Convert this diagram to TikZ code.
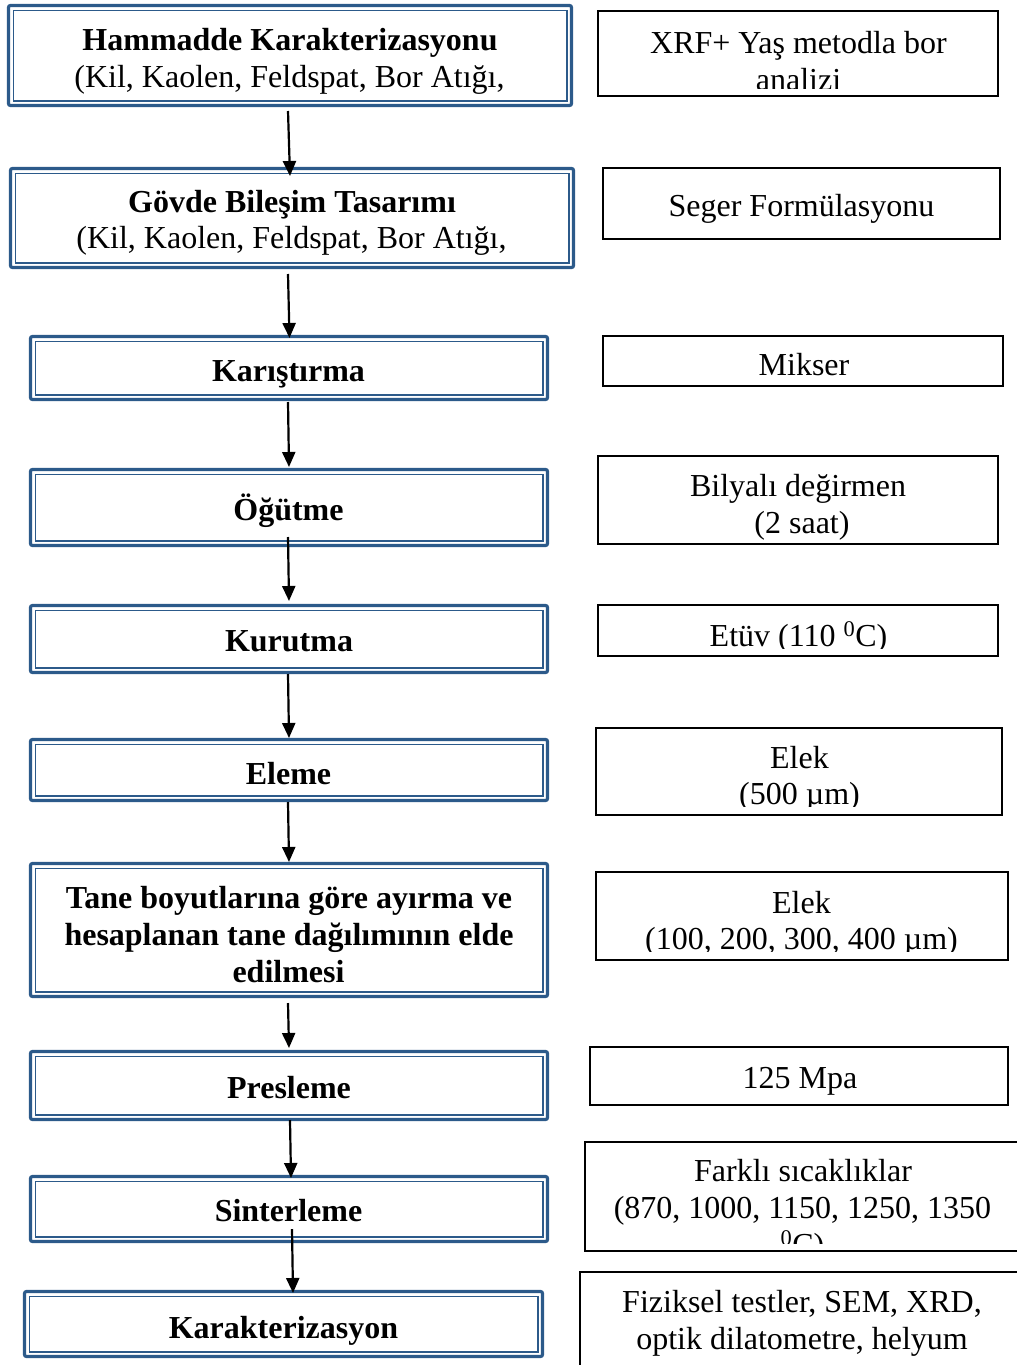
\documentclass[tikz,border=0pt]{standalone}
\usepackage{fontspec}
\setmainfont{Liberation Serif}
\usetikzlibrary{arrows.meta}
\definecolor{frameblue}{HTML}{2C5A8A}

\tikzset{
  stepframe/.style={draw=frameblue, line width=3.2pt, rounded corners=2pt,
    inner sep=0pt, outer sep=0pt},
  stepinner/.style={draw=frameblue, line width=1.6pt},
  toolframe/.style={draw=black, line width=2.4pt, inner sep=0pt, outer sep=0pt},
  txt/.style={anchor=base, inner sep=0pt, font=\fontsize{32}{37}\selectfont},
  btxt/.style={anchor=base, inner sep=0pt, font=\fontsize{32}{37}\selectfont\bfseries},
  flowarrow/.style={-{Triangle[length=15pt,width=13pt]}, line width=2.2pt},
}

% process step: double blue frame (name, centre x, centre y, width, height)
\newcommand\stepframe[5]{%
  \node[stepframe, minimum width=#4pt, minimum height=#5pt] (#1) at (#2,#3) {};
  \draw[stepinner] ([shift={(4.8pt,-4.8pt)}]#1.north west)
    rectangle ([shift={(-4.8pt,4.8pt)}]#1.south east);
}

% method box: thin black frame (name, left, top, right, bottom)
\newcommand\toolbox[5]{%
  \pgfmathsetmacro\tbcx{(#2+#4)/2}%
  \pgfmathsetmacro\tbcy{(#3+#5)/2}%
  \pgfmathsetmacro\tbw{#4-#2}%
  \pgfmathsetmacro\tbh{#5-#3}%
  \node[toolframe, minimum width=\tbw pt, minimum height=\tbh pt] (#1) at (\tbcx,\tbcy) {};
}

\begin{document}
\begin{tikzpicture}[x=1pt,y=-1pt]
\useasboundingbox (0,0) rectangle (1017,1365);

% ---------- process steps ----------
\stepframe{n1}{290}{55.5}{563}{100}
\stepframe{n2}{292}{218}{563}{99}
\stepframe{n3}{289}{368}{517}{63}
\stepframe{n4}{289}{507.5}{517}{76}
\stepframe{n5}{289}{639}{517}{67}
\stepframe{n6}{289}{770}{517}{61}
\stepframe{n7}{289}{930}{517}{133}
\stepframe{n8}{289}{1085.5}{517}{68}
\stepframe{n9}{289}{1209}{517}{65}
\stepframe{n10}{283.5}{1324}{518}{65}

\node[btxt] (t1a) at (290,50) {Hammadde Karakterizasyonu};
\node[txt]  (t1b) at (289.5,87) {(Kil, Kaolen, Feldspat, Bor Atığı,};
\node[btxt] (t2a) at (292,212) {Gövde Bileşim Tasarımı};
\node[txt]  (t2b) at (291.5,248) {(Kil, Kaolen, Feldspat, Bor Atığı,};
\node[btxt] (t3) at (288.5,381) {Karıştırma};
\node[btxt] (t4) at (288.5,520) {Öğütme};
\node[btxt] (t5) at (289,651) {Kurutma};
\node[btxt] (t6) at (288.5,784) {Eleme};
\node[btxt] (t7a) at (289,908) {Tane boyutlarına göre ayırma ve};
\node[btxt] (t7b) at (289,945) {hesaplanan tane dağılımının elde};
\node[btxt] (t7c) at (288.5,982) {edilmesi};
\node[btxt] (t8) at (289,1098) {Presleme};
\node[btxt] (t9) at (288.5,1221) {Sinterleme};
\node[btxt] (t10) at (283.5,1338) {Karakterizasyon};

% ---------- flow arrows ----------
\draw[flowarrow] ([shift={(-2pt,-5.5pt)}]n1.south) -- ([shift={(-2pt,-7.5pt)}]n2.north);
\draw[flowarrow] ([shift={(-4pt,-6.5pt)}]n2.south) -- ([shift={(0.5pt,-1.5pt)}]n3.north);
\draw[flowarrow] ([shift={(-1pt,-2.5pt)}]n3.south) -- ([shift={(0pt,2.5pt)}]n4.north);
\draw[flowarrow] ([shift={(-1pt,8.5pt)}]n4.south) -- ([shift={(0pt,4.5pt)}]n5.north);
\draw[flowarrow] ([shift={(-1pt,-1.5pt)}]n5.south) -- ([shift={(0pt,1.5pt)}]n6.north);
\draw[flowarrow] ([shift={(-1pt,-1.5pt)}]n6.south) -- ([shift={(0pt,1.5pt)}]n7.north);
\draw[flowarrow] ([shift={(-1pt,-6.5pt)}]n7.south) -- ([shift={(0pt,3.5pt)}]n8.north);
\draw[flowarrow] ([shift={(1pt,-0.5pt)}]n8.south) -- ([shift={(2pt,-1.5pt)}]n9.north);
\draw[flowarrow] ([shift={(3pt,12.5pt)}]n9.south) -- ([shift={(9.5pt,-1.5pt)}]n10.north);

% ---------- equipment / method boxes ----------
\toolbox{r1}{598}{11}{998}{96}
\begin{scope}
  \clip (590,0) rectangle (1017,88);
  \node[txt] (r1a) at (798.5,53) {XRF+ Yaş metodla bor};
  \node[txt] (r1b) at (798.5,90) {analizi};
\end{scope}

\toolbox{r2}{603}{168}{1000}{239}
\node[txt] (r2a) at (801.5,216) {Seger Formülasyonu};

\toolbox{r3}{603}{336}{1003}{386}
\node[txt] (r3a) at (804,375) {Mikser};

\toolbox{r4}{598}{456}{998}{544}
\node[txt] (r4a) at (798,496) {Bilyalı değirmen};
\node[txt] (r4b) at (802,533) {(2 saat)};

\toolbox{r5}{598}{605}{998}{656}
\begin{scope}
  \clip (590,600) rectangle (1017,648);
  \node[txt] (r5a) at (798.5,646) {Etüv (110 \textsuperscript{0}C)};
\end{scope}

\toolbox{r6}{596}{728}{1002}{815}
\begin{scope}
  \clip (590,720) rectangle (1017,806);
  \node[txt] (r6a) at (799.5,768) {Elek};
  \node[txt] (r6b) at (799.5,804) {(500 µm)};
\end{scope}

\toolbox{r7}{596}{872}{1008}{960}
\begin{scope}
  \clip (590,865) rectangle (1017,951);
  \node[txt] (r7a) at (801.5,913) {Elek};
  \node[txt] (r7b) at (801.5,949) {(100, 200, 300, 400 µm)};
\end{scope}

\toolbox{r8}{590}{1047}{1008}{1105}
\node[txt] (r8a) at (800,1088) {125 Mpa};

\toolbox{r9}{585}{1142}{1030}{1251}
\begin{scope}
  \clip (580,1135) rectangle (1017,1243);
  \node[txt] (r9a) at (803,1181) {Farklı sıcaklıklar};
  \node[txt] (r9b) at (802.5,1218) {(870, 1000, 1150, 1250, 1350};
  \node[txt] (r9c) at (802.5,1255) {\textsuperscript{0}C)};
\end{scope}

\toolbox{r10}{580}{1272}{1030}{1380}
\node[txt] (r10a) at (802,1312) {Fiziksel testler, SEM, XRD,};
\node[txt] (r10b) at (802,1349) {optik dilatometre, helyum};

\end{tikzpicture}
\end{document}
